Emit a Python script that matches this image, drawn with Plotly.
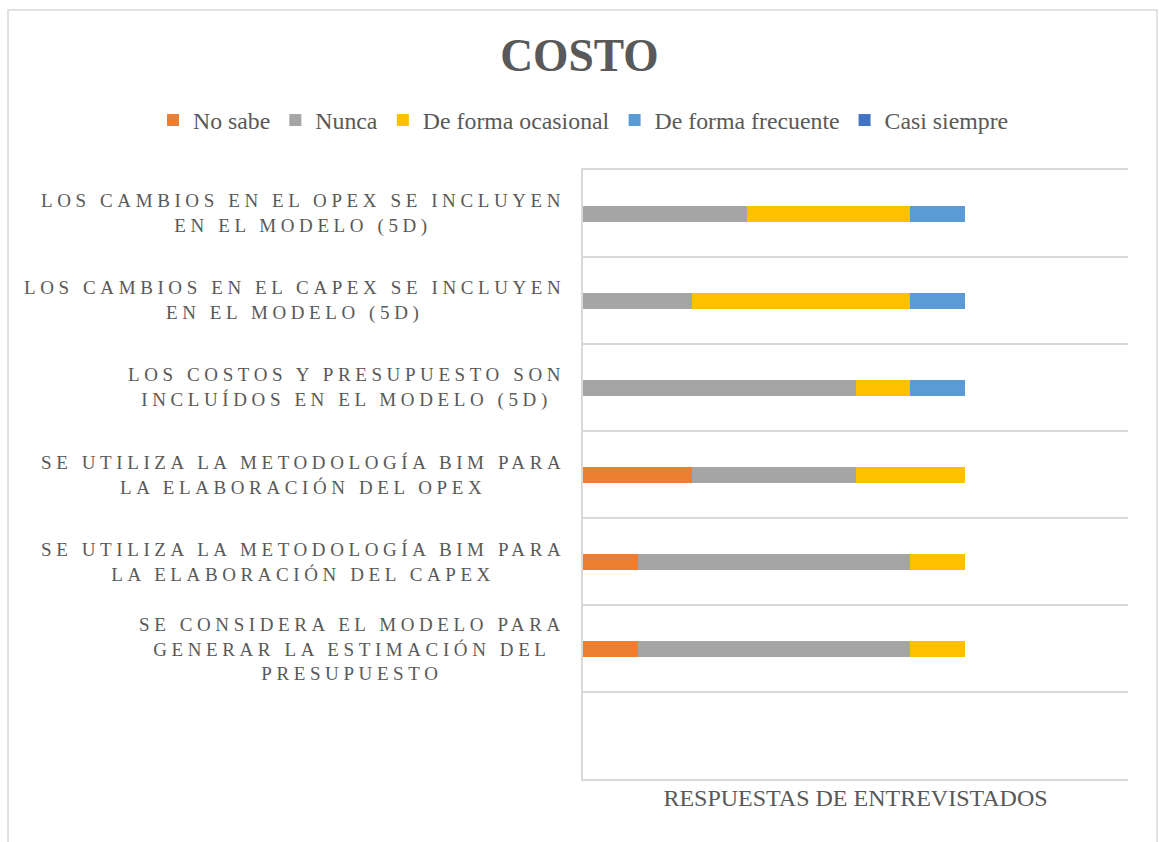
import plotly.graph_objects as go

# Survey statements, top to bottom, split into their display lines
label_lines = [
    ["LOS CAMBIOS EN EL OPEX SE INCLUYEN", "EN EL MODELO (5D)"],
    ["LOS CAMBIOS EN EL CAPEX SE INCLUYEN", "EN EL MODELO (5D)"],
    ["LOS COSTOS Y PRESUPUESTO SON", "INCLUÍDOS EN EL MODELO (5D)"],
    ["SE UTILIZA LA METODOLOGÍA BIM PARA", "LA ELABORACIÓN DEL OPEX"],
    ["SE UTILIZA LA METODOLOGÍA BIM PARA", "LA ELABORACIÓN DEL CAPEX"],
    ["SE CONSIDERA EL MODELO PARA", "GENERAR LA ESTIMACIÓN DEL", "PRESUPUESTO"],
]
categories = [" ".join(lines) for lines in label_lines]

# Number of interviewees per answer
no_sabe = [0, 0, 0, 2, 1, 1]
nunca = [3, 2, 5, 3, 5, 5]
ocasional = [3, 4, 1, 2, 1, 1]
frecuente = [1, 1, 1, 0, 0, 0]
casi_siempre = [0, 0, 0, 0, 0, 0]

series = [
    ("No sabe", no_sabe, "#ED7D31"),
    ("Nunca", nunca, "#A5A5A5"),
    ("De forma ocasional", ocasional, "#FFC000"),
    ("De forma frecuente", frecuente, "#5B9BD5"),
    ("Casi siempre", casi_siempre, "#4472C4"),
]

TEXT = "#595959"
GRID = "#d9d9d9"
SERIF = "Liberation Serif, Times New Roman, serif"

fig = go.Figure()
for name, vals, color in series:
    fig.add_trace(go.Bar(
        name=name, y=categories, x=vals, orientation="h",
        marker=dict(color=color, line=dict(width=0)),
    ))

fig.update_layout(
    width=1159, height=842,
    margin=dict(l=583, r=31, t=170, b=63, autoexpand=False),
    paper_bgcolor="white", plot_bgcolor="white",
    barmode="stack", bargap=0.816,
    font=dict(family=SERIF, color=TEXT),
    title=dict(text="<b>COSTO</b>", x=0.5, xref="container", xanchor="center",
               y=1 - 55 / 842, yref="container", yanchor="middle",
               font=dict(size=45.5, color=TEXT, family=SERIF)),
    legend=dict(orientation="h", xref="paper", x=-0.789, xanchor="left",
                yref="paper", y=1.082, yanchor="middle",
                font=dict(size=23.8, color=TEXT, family=SERIF),
                traceorder="normal", itemclick=False),
    showlegend=True,
)

fig.update_xaxes(
    range=[0, 10], showticklabels=False, showgrid=False, zeroline=False,
    ticks="", showline=True, mirror=True, linecolor=GRID, linewidth=2,
    title=dict(text="RESPUESTAS DE ENTREVISTADOS", standoff=9,
               font=dict(size=24, color=TEXT, family=SERIF)),
)
fig.update_yaxes(
    type="category", categoryorder="array", categoryarray=categories[::-1],
    range=[-1.5, len(categories) - 0.5], tickson="boundaries",
    showticklabels=False, ticks="", showgrid=True, gridcolor=GRID, gridwidth=2,
    showline=True, linecolor=GRID, linewidth=2, zeroline=False,
)

# Letter-spaced category labels, centred block to the left of the axis
for cat, lines in zip(categories, label_lines):
    text = "<br>".join(
        f'<span style="letter-spacing:4.6px">{ln}</span>' for ln in lines
    )
    fig.add_annotation(
        x=0, xref="paper", y=cat, yref="y", xanchor="right", yanchor="middle",
        xshift=-16, align="center", showarrow=False, text=text,
        font=dict(size=19, color=TEXT, family=SERIF),
    )

# Chart frame
fig.add_shape(type="rect", xref="paper", yref="paper",
              x0=-1.055, x1=1.0532, y0=-0.2, y1=1.2627,
              line=dict(color=GRID, width=1.5), fillcolor="rgba(0,0,0,0)",
              layer="below")

fig.write_html("out.html")
